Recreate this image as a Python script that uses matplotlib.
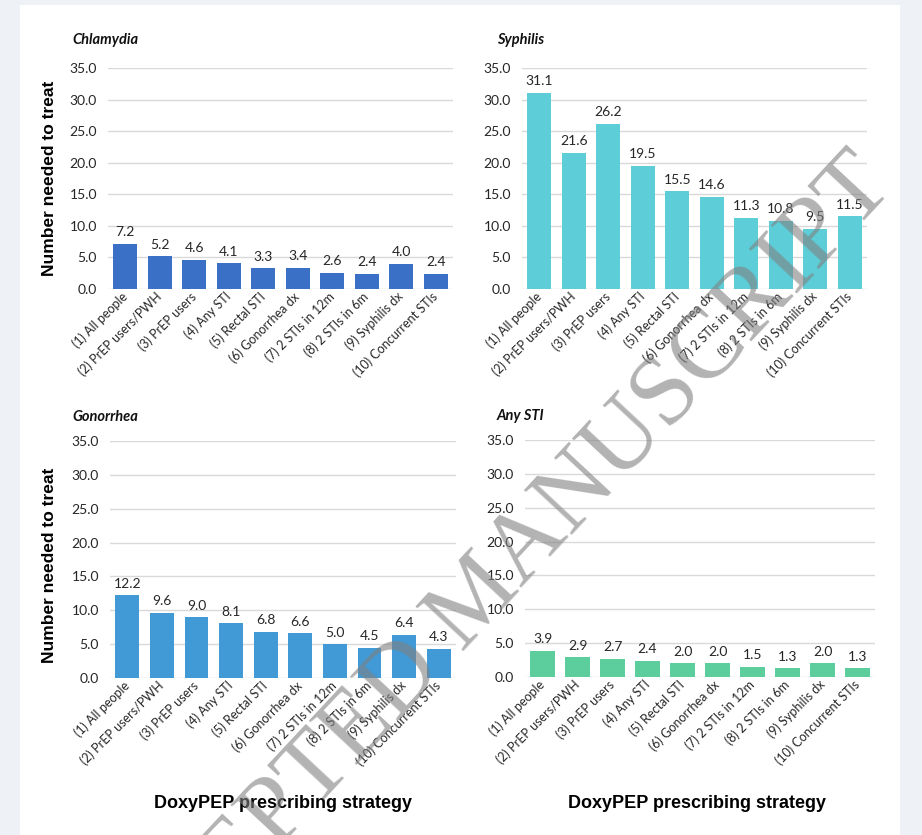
import matplotlib
matplotlib.use('Agg')
import matplotlib.pyplot as plt
from matplotlib.patches import Rectangle

# strategies on the x axis
strategies = ["(1) All people", "(2) PrEP users/PWH", "(3) PrEP users", "(4) Any STI",
              "(5) Rectal STI", "(6) Gonorrhea dx", "(7) 2 STIs in 12m", "(8) 2 STIs in 6m",
              "(9) Syphilis dx", "(10) Concurrent STIs"]

chlamydia = [7.2, 5.2, 4.6, 4.1, 3.3, 3.4, 2.6, 2.4, 4.0, 2.4]
syphilis = [31.1, 21.6, 26.2, 19.5, 15.5, 14.6, 11.3, 10.8, 9.5, 11.5]
gonorrhea = [12.2, 9.6, 9.0, 8.1, 6.8, 6.6, 5.0, 4.5, 6.4, 4.3]
any_sti = [3.9, 2.9, 2.7, 2.4, 2.0, 2.0, 1.5, 1.3, 2.0, 1.3]

yticks = [0, 5, 10, 15, 20, 25, 30, 35]

W, H = 922, 835
fig = plt.figure(figsize=(W / 100, H / 100), dpi=100, facecolor='#eef1f6')
plt.rcParams['font.family'] = ['Lato', 'DejaVu Sans']

# white page behind the charts
fig.patches.append(Rectangle((20 / W, 0), 880 / W, 1 - 5 / H, transform=fig.transFigure,
                             facecolor='white', edgecolor='none', zorder=-5))


def px_axes(x0, x1, ytop, ybot):
    return fig.add_axes([x0 / W, 1 - ybot / H, (x1 - x0) / W, (ybot - ytop) / H])


panels = [
    ("Chlamydia", chlamydia, '#3a70c5', (108, 453, 68, 289), (72, 40)),
    ("Syphilis", syphilis, '#5dcdd8', (522, 867, 68, 289), (497, 40)),
    ("Gonorrhea", gonorrhea, '#419ad6', (110, 456, 441, 678), (72, 417)),
    ("Any STI", any_sti, '#5ccd9d', (525, 875, 440, 677), (497, 416)),
]

for i, (title, vals, color, box, tpos) in enumerate(panels):
    ax = px_axes(*box)
    ax.set_facecolor('none')
    x = list(range(len(strategies)))
    bars = ax.bar(x, vals, width=0.69, color=color, zorder=2)
    for b, v in zip(bars, vals):
        ax.annotate(f"{v:.1f}", (b.get_x() + b.get_width() / 2, v), xytext=(0, 4),
                    textcoords='offset points', ha='center', va='bottom',
                    fontsize=10, color='#262626')
    ax.set_ylim(0, 35)
    ax.set_xlim(-0.5, 9.5)
    ax.set_yticks(yticks)
    ax.set_yticklabels([f"{t:.1f}" for t in yticks], fontsize=10, color='#262626')
    ax.set_xticks(x)
    ax.set_xticklabels(strategies, rotation=45, ha='right', va='center',
                       rotation_mode='anchor', fontsize=9, color='#262626')
    ax.tick_params(length=0, pad=8)
    ax.tick_params(axis='x', pad=4)
    ax.grid(axis='y', color='#d9d9d9', lw=1, zorder=0)
    for s in ax.spines.values():
        s.set_visible(False)
    fig.text(tpos[0] / W, 1 - tpos[1] / H, title, fontsize=10.5, fontweight='bold',
             fontstyle='italic', ha='left', va='center', color='#111111')

# axis titles
for yc in (178, 565):
    fig.text(50 / W, 1 - yc / H, "Number needed to treat", rotation=90, fontsize=12.5,
             fontweight='bold', ha='center', va='center', family=['Liberation Sans', 'DejaVu Sans'])
for xc in (283, 697):
    fig.text(xc / W, 1 - 803 / H, "DoxyPEP prescribing strategy", fontsize=13,
             fontweight='bold', ha='center', va='center',
             family=['Liberation Sans Narrow', 'Liberation Sans', 'DejaVu Sans'])

# watermark
fig.text(478 / W, 1 - 598 / H, "ACCEPTED MANUSCRIPT", rotation=47, fontsize=71,
         family=['Liberation Serif', 'DejaVu Serif'], color='#808080', alpha=0.6,
         ha='center', va='center', rotation_mode='anchor', zorder=10)

fig.savefig('out.png', dpi=100, facecolor=fig.get_facecolor())
